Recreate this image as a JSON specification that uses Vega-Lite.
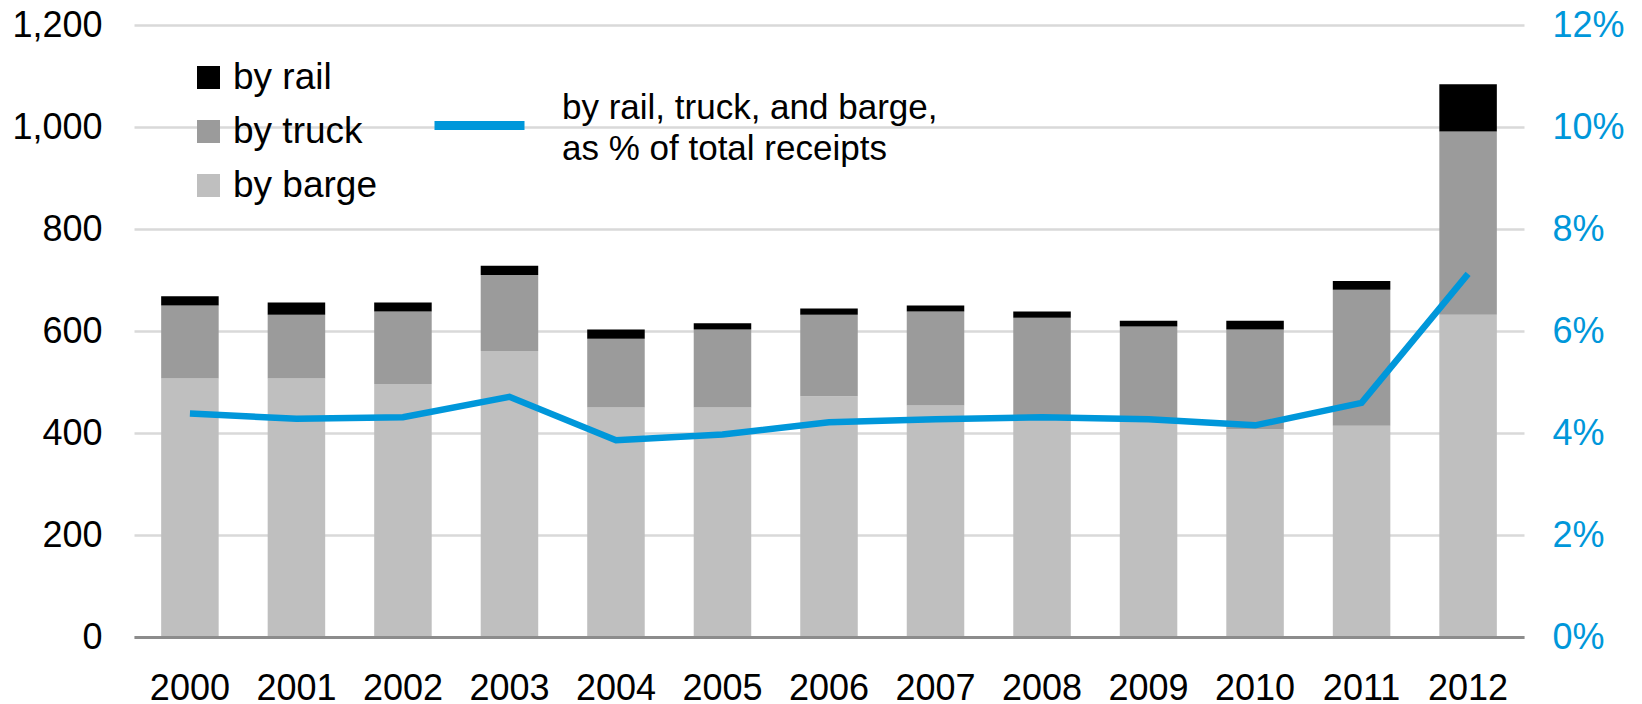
{
  "$schema": "https://vega.github.io/schema/vega-lite/v6.json",
  "width": 1390,
  "height": 612,
  "autosize": {"type": "none"},
  "padding": {"left": 134, "top": 25, "right": 118, "bottom": 67},
  "background": "#ffffff",
  "config": {
    "font": "Liberation Sans",
    "view": {"stroke": null},
    "axis": {
      "labelFont": "Liberation Sans",
      "labelFontSize": 36,
      "labelColor": "#000000",
      "ticks": false,
      "tickSize": 0,
      "domain": false,
      "grid": false,
      "title": null
    },
    "legend": {"labelFont": "Liberation Sans", "labelColor": "#000000"},
    "style": {"guide-label": {"lineHeight": 41}}
  },
  "datasets": {
    "bars": [
      {"year": 2000, "mode": "by barge", "value": 507},
      {"year": 2000, "mode": "by truck", "value": 143},
      {"year": 2000, "mode": "by rail", "value": 18},
      {"year": 2001, "mode": "by barge", "value": 507},
      {"year": 2001, "mode": "by truck", "value": 125},
      {"year": 2001, "mode": "by rail", "value": 24},
      {"year": 2002, "mode": "by barge", "value": 496},
      {"year": 2002, "mode": "by truck", "value": 142},
      {"year": 2002, "mode": "by rail", "value": 18},
      {"year": 2003, "mode": "by barge", "value": 561},
      {"year": 2003, "mode": "by truck", "value": 149},
      {"year": 2003, "mode": "by rail", "value": 18},
      {"year": 2004, "mode": "by barge", "value": 450},
      {"year": 2004, "mode": "by truck", "value": 135},
      {"year": 2004, "mode": "by rail", "value": 18},
      {"year": 2005, "mode": "by barge", "value": 450},
      {"year": 2005, "mode": "by truck", "value": 153},
      {"year": 2005, "mode": "by rail", "value": 12},
      {"year": 2006, "mode": "by barge", "value": 472},
      {"year": 2006, "mode": "by truck", "value": 160},
      {"year": 2006, "mode": "by rail", "value": 12},
      {"year": 2007, "mode": "by barge", "value": 454},
      {"year": 2007, "mode": "by truck", "value": 184},
      {"year": 2007, "mode": "by rail", "value": 12},
      {"year": 2008, "mode": "by barge", "value": 432},
      {"year": 2008, "mode": "by truck", "value": 194},
      {"year": 2008, "mode": "by rail", "value": 12},
      {"year": 2009, "mode": "by barge", "value": 426},
      {"year": 2009, "mode": "by truck", "value": 183},
      {"year": 2009, "mode": "by rail", "value": 11},
      {"year": 2010, "mode": "by barge", "value": 408},
      {"year": 2010, "mode": "by truck", "value": 195},
      {"year": 2010, "mode": "by rail", "value": 17},
      {"year": 2011, "mode": "by barge", "value": 414},
      {"year": 2011, "mode": "by truck", "value": 267},
      {"year": 2011, "mode": "by rail", "value": 17},
      {"year": 2012, "mode": "by barge", "value": 632},
      {"year": 2012, "mode": "by truck", "value": 359},
      {"year": 2012, "mode": "by rail", "value": 93}
    ],
    "share": [
      {"year": 2000, "pct": 0.0438},
      {"year": 2001, "pct": 0.0428},
      {"year": 2002, "pct": 0.0431},
      {"year": 2003, "pct": 0.0471},
      {"year": 2004, "pct": 0.0386},
      {"year": 2005, "pct": 0.0397},
      {"year": 2006, "pct": 0.0421},
      {"year": 2007, "pct": 0.0427},
      {"year": 2008, "pct": 0.0431},
      {"year": 2009, "pct": 0.0427},
      {"year": 2010, "pct": 0.0415},
      {"year": 2011, "pct": 0.0459},
      {"year": 2012, "pct": 0.0712}
    ]
  },
  "layer": [
    {
      "data": {"name": "bars"},
      "transform": [
        {"calculate": "indexof(['by barge', 'by truck', 'by rail'], datum.mode)", "as": "stack_rank"}
      ],
      "mark": {"type": "bar"},
      "encoding": {
        "x": {
          "field": "year",
          "type": "ordinal",
          "scale": {"paddingInner": 0.46, "paddingOuter": 0.255},
          "axis": {
            "labelAngle": 0,
            "labelPadding": 34,
            "domain": true,
            "domainColor": "#8c8c8c",
            "domainWidth": 3,
            "zindex": 1
          }
        },
        "y": {
          "field": "value",
          "type": "quantitative",
          "stack": "zero",
          "scale": {"domain": [0, 1200]},
          "axis": {
            "orient": "left",
            "values": [0, 200, 400, 600, 800, 1000, 1200],
            "format": ",d",
            "grid": true,
            "gridColor": "#d9d9d9",
            "gridWidth": 2.5,
            "labelPadding": 32
          }
        },
        "order": {"field": "stack_rank", "type": "quantitative", "sort": "ascending"},
        "color": {
          "field": "mode",
          "type": "nominal",
          "scale": {
            "domain": ["by rail", "by truck", "by barge"],
            "range": ["#000000", "#9b9b9b", "#bfbfbf"]
          },
          "legend": {
            "orient": "none",
            "legendX": 56,
            "legendY": 34,
            "title": null,
            "values": ["by rail", "by truck", "by barge"],
            "symbolType": "square",
            "symbolSize": 529,
            "symbolStrokeWidth": 0,
            "labelFontSize": 37,
            "labelOffset": 6,
            "rowPadding": 16,
            "padding": 0
          }
        }
      }
    },
    {
      "data": {"name": "share"},
      "mark": {"type": "line", "strokeWidth": 6.5},
      "encoding": {
        "x": {"field": "year", "type": "ordinal"},
        "y": {
          "field": "pct",
          "type": "quantitative",
          "scale": {"domain": [0, 0.12]},
          "axis": {
            "orient": "right",
            "values": [0, 0.02, 0.04, 0.06, 0.08, 0.1, 0.12],
            "format": ".0%",
            "labelColor": "#0097da",
            "labelPadding": 28
          }
        },
        "stroke": {
          "datum": "by rail, truck, and barge, as % of total receipts",
          "scale": {"range": ["#0097da"]},
          "legend": {
            "orient": "none",
            "legendX": 296,
            "legendY": 51,
            "title": null,
            "symbolType": "stroke",
            "symbolSize": 8100,
            "symbolStrokeWidth": 9,
            "labelFontSize": 35,
            "labelOffset": 33,
            "labelLimit": 0,
            "labelBaseline": "bottom",
            "labelExpr": "['by rail, truck, and barge,', 'as % of total receipts']",
            "padding": 0
          }
        }
      }
    }
  ],
  "resolve": {"scale": {"y": "independent"}}
}
